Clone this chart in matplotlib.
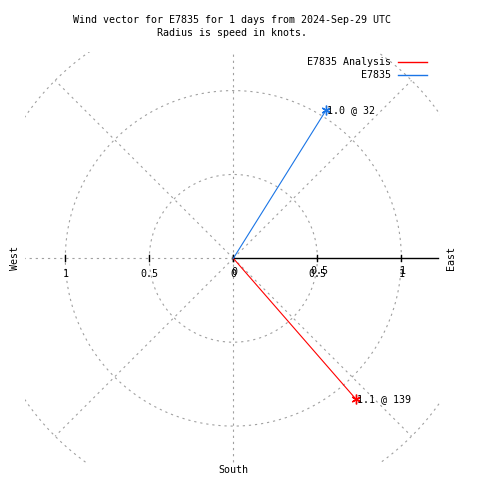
import numpy as np
import matplotlib
matplotlib.use("Agg")
import matplotlib.pyplot as plt

# data
names = ["E7835 Analysis", "E7835"]
speeds = [1.11, 1.04]        # knots
directions = [139, 32]       # degrees clockwise from north
colors = ["#ff0000", "#1a75e6"]

tick_vals = [0.5, 1.0]
grid_radii = [0.5, 1.0, 1.5]
grid_angles = np.arange(0, 360, 45)

plt.rcParams['font.family'] = ['DejaVu Sans Mono']
fs = 7.2

fig = plt.figure(figsize=(4.8, 4.8), dpi=100)
ax = fig.add_axes([25/480, 1-463/480, 415/480, 411/480])
ax.set_xlim(-1.24, 1.23)
ax.set_ylim(-1.22, 1.23)
ax.set_aspect('auto')
ax.axis('off')

grid_kw = dict(color='#a0a0a0', lw=0.8, ls=(0, (2, 3.5)), zorder=1)
t = np.linspace(0, 2*np.pi, 400)
for r in grid_radii:
    ax.plot(r*np.cos(t), r*np.sin(t), **grid_kw)
for a in grid_angles:
    if a == 0:
        continue
    ax.plot([0, 1.5*np.cos(np.radians(a))], [0, 1.5*np.sin(np.radians(a))], **grid_kw)

# radial axis
ax.plot([0, 1.22], [0, 0], color='black', lw=1.0, zorder=2)
tick_h = 0.018
for v in [0] + tick_vals:
    for s in [1, -1]:
        ax.plot([s*v, s*v], [-tick_h, tick_h], color='black', lw=1.0, zorder=2)

# tick labels (two overlapping sets, like the original)
ly = -0.095
for v in tick_vals:
    ax.text(-v, ly, "{:g}".format(v), ha='center', va='center', fontsize=fs)
ax.text(0, ly, "0", ha='center', va='center', fontsize=fs)
ax.text(0.004, ly + 0.012, "0", ha='center', va='center', fontsize=fs)
for v in tick_vals:
    ax.text(v, ly, "{:g}".format(v), ha='center', va='center', fontsize=fs)
    ax.text(v + 0.01, ly + 0.018, "{:g}".format(v), ha='center', va='center', fontsize=fs)

# vectors
for name, s, d, c in zip(names, speeds, directions, colors):
    x = s*np.sin(np.radians(d))
    y = s*np.cos(np.radians(d))
    ax.plot([0, x], [0, y], color=c, lw=0.8, zorder=3, label=name)
    ax.plot([x], [y], marker=(6, 2, 0), ms=7, mew=1.0, color=c, zorder=4)
    ax.text(x + 0.005, y, "{:.1f} @ {}".format(s, d), ha='left', va='center', fontsize=fs, zorder=5)

# compass labels
fig.text(15/480, 1-258/480, "West", rotation=90, ha='center', va='center', fontsize=fs)
fig.text(451/480, 1-258/480, "East", rotation=90, ha='center', va='center', fontsize=fs)
fig.text(233/480, 1-470/480, "South", ha='center', va='center', fontsize=fs)

# title
fig.text(232/480, 1-20/480, "Wind vector for E7835 for 1 days from 2024-Sep-29 UTC",
         ha='center', va='center', fontsize=fs)
fig.text(232/480, 1-33/480, "Radius is speed in knots.", ha='center', va='center', fontsize=fs)

# legend
for i, (name, c) in enumerate(zip(names, colors)):
    yy = 1 - (62 + 13*i)/480
    fig.text(391/480, yy, name, ha='right', va='center', fontsize=fs)
    fig.add_artist(plt.Line2D([398/480, 427/480], [yy, yy], color=c, lw=1.0))

fig.savefig("out.png", dpi=100)
